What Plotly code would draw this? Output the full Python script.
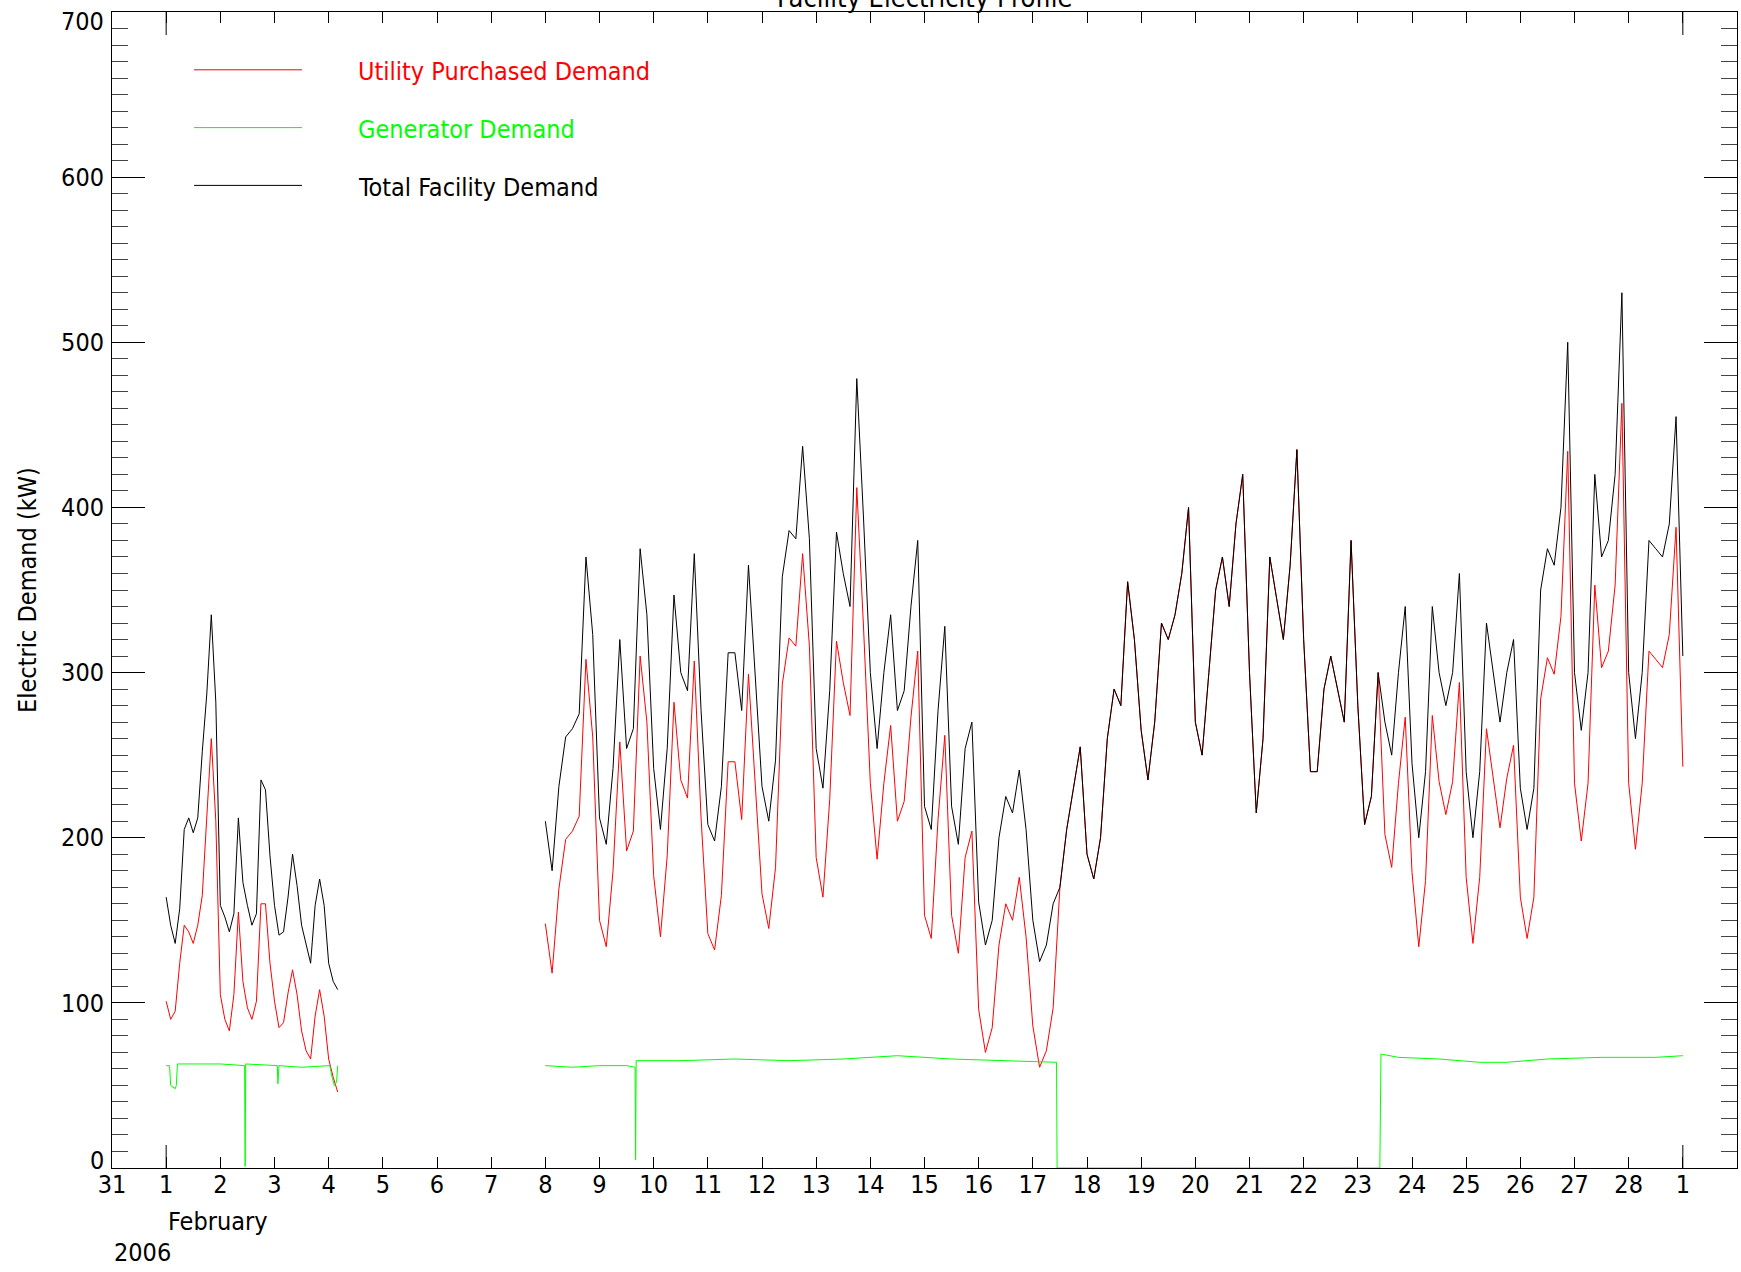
import pandas as pd
import plotly.graph_objects as go

# ---------------- data ----------------
# Segment 1: Feb 1 00:00 .. Feb 4 04:00, 2-hour samples
seg1_start = "2006-02-01 00:00"
seg1_step = "2h"
seg1_total = [164, 147, 136, 157, 205, 212, 203, 212, 252, 287, 335, 282,
              159, 152, 143, 154, 212, 173, 159, 147, 154, 235, 229, 189,
              159, 141, 143, 164, 190, 171, 147, 136, 124, 159, 175, 159,
              124, 113, 108]
seg1_utility = [101, 90, 95, 124, 147, 143, 136, 147, 165, 210, 260, 210,
                105, 90, 83, 105, 155, 113, 97, 90, 101, 160, 160, 124,
                101, 85, 88, 106, 120, 105, 83, 71, 66, 92, 108, 92,
                66, 55, 46]

# Segment 2: Feb 8 00:00 .. Mar 1 00:00, 3-hour samples
seg2_start = "2006-02-08 00:00"
seg2_step = "3h"
seg2_total = [
    210, 180, 231, 261, 266, 275, 370, 323,   # Feb 8
    212, 196, 242, 320, 254, 266, 375, 335,   # Feb 9
    242, 205, 254, 347, 300, 289, 372, 277,   # Feb 10
    208, 198, 231, 312, 312, 277, 365, 300,   # Feb 11
    231, 210, 247, 358, 386, 381, 437, 381,   # Feb 12
    254, 230, 289, 385, 360, 340, 478, 393,   # Feb 13
    300, 254, 300, 335, 277, 289, 340, 380,   # Feb 14
    219, 205, 277, 328, 219, 196, 254, 270,   # Feb 15
    161, 135, 150, 200, 225, 215, 241, 205,   # Feb 16
    150, 125, 135, 160, 170, 205, 230, 255,   # Feb 17
    190, 175, 200, 260, 290, 280, 355, 320,   # Feb 18
    265, 235, 270, 330, 320, 335, 360, 400,   # Feb 19
    270, 250, 300, 350, 370, 340, 390, 420,   # Feb 20
    300, 215, 260, 370, 345, 320, 365, 435,   # Feb 21
    320, 240, 240, 290, 310, 290, 270, 380,   # Feb 22
    280, 208, 225, 300, 270, 250, 300, 340,   # Feb 23
    245, 200, 240, 340, 300, 280, 300, 360,   # Feb 24
    240, 200, 240, 330, 300, 270, 300, 320,   # Feb 25
    230, 205, 230, 350, 375, 365, 400, 500,   # Feb 26
    300, 265, 300, 420, 370, 380, 420, 530,   # Feb 27
    300, 260, 300, 380, 375, 370, 390, 455,   # Feb 28
    310,                                      # Mar 1
]
seg2_utility = [
    148, 118, 169, 199, 204, 213, 308, 261,
    150, 134, 180, 258, 192, 204, 310, 270,
    177, 140, 189, 282, 235, 224, 307, 212,
    142, 132, 165, 246, 246, 211, 299, 234,
    166, 145, 182, 293, 321, 316, 372, 316,
    188, 164, 223, 319, 294, 274, 412, 327,
    233, 187, 233, 268, 210, 222, 273, 313,
    153, 139, 211, 262, 153, 130, 188, 204,
    96, 70, 85, 135, 160, 150, 176, 140,
    86, 61, 71, 97, 170, 205, 230, 255,
    190, 175, 200, 260, 290, 280, 355, 320,
    265, 235, 270, 330, 320, 335, 360, 400,
    270, 250, 300, 350, 370, 340, 390, 420,
    300, 215, 260, 370, 345, 320, 365, 435,
    320, 240, 240, 290, 310, 290, 270, 380,
    280, 208, 225, 300, 202, 182, 233, 273,
    179, 134, 174, 274, 234, 214, 234, 294,
    176, 136, 176, 266, 236, 206, 236, 256,
    164, 139, 164, 284, 309, 299, 334, 434,
    233, 198, 233, 353, 303, 313, 353, 463,
    233, 193, 233, 313, 308, 303, 323, 388,
    243,
]

# Generator demand, breakpoints
gen1_times = ["2006-02-01 00:00", "2006-02-01 01:30", "2006-02-01 02:00",
              "2006-02-01 04:00", "2006-02-01 04:30", "2006-02-01 05:00",
              "2006-02-01 12:00", "2006-02-02 00:00", "2006-02-02 10:45",
              "2006-02-02 11:00", "2006-02-02 11:15", "2006-02-03 01:15",
              "2006-02-03 01:30", "2006-02-03 02:00", "2006-02-03 12:00",
              "2006-02-04 00:30", "2006-02-04 01:30", "2006-02-04 02:30",
              "2006-02-04 03:30", "2006-02-04 04:00"]
gen1_values = [62, 62, 50, 48, 50, 63, 63, 63, 62, 1, 63, 62, 51, 62, 61,
               62, 55, 50, 52, 62]
gen2_times = ["2006-02-08 00:00", "2006-02-08 12:00", "2006-02-09 00:00",
              "2006-02-09 12:00", "2006-02-09 15:45", "2006-02-09 16:00",
              "2006-02-09 16:15", "2006-02-10 12:00", "2006-02-11 12:00",
              "2006-02-12 12:00", "2006-02-13 12:00", "2006-02-14 12:00",
              "2006-02-15 12:00", "2006-02-16 12:00", "2006-02-17 10:30",
              "2006-02-17 10:45", "2006-02-23 09:45", "2006-02-23 10:15",
              "2006-02-23 18:00", "2006-02-24 12:00", "2006-02-25 06:00",
              "2006-02-25 18:00", "2006-02-26 12:00", "2006-02-27 12:00",
              "2006-02-28 12:00", "2006-03-01 00:00"]
gen2_values = [62, 61, 62, 62, 61, 5, 65, 65, 66, 65, 66, 68, 66, 65, 64,
               0, 0, 69, 67, 66, 64, 64, 66, 67, 67, 68]

day_ticks = pd.date_range("2006-01-31", "2006-03-01", freq="D")
day_labels = ["31"] + [str(i) for i in range(1, 29)] + ["1"]
month_ticks = ["2006-02-01", "2006-03-01"]
y_ticks = list(range(0, 701, 100))
y_labels = [str(v) for v in y_ticks]

series_names = ["Utility Purchased Demand", "Generator Demand", "Total Facility Demand"]
series_colors = ["#ff0000", "#00ff00", "#000000"]

FONT = "DejaVu Sans Condensed, Liberation Sans Narrow, Arial Narrow, sans-serif"
FS = 25

# ---------------- build ----------------
t1 = list(pd.date_range(seg1_start, periods=len(seg1_total), freq=seg1_step))
t2 = list(pd.date_range(seg2_start, periods=len(seg2_total), freq=seg2_step))

x_main = t1 + [None] + t2
util_y = seg1_utility + [None] + seg2_utility
total_y = seg1_total + [None] + seg2_total
gen_x = list(pd.to_datetime(gen1_times)) + [None] + list(pd.to_datetime(gen2_times))
gen_y = gen1_values + [None] + gen2_values

fig = go.Figure()
fig.add_trace(go.Scatter(x=x_main, y=util_y, mode="lines", name=series_names[0],
                         line=dict(color=series_colors[0], width=1), connectgaps=False))
fig.add_trace(go.Scatter(x=gen_x, y=gen_y, mode="lines", name=series_names[1],
                         line=dict(color=series_colors[1], width=1), connectgaps=False))
fig.add_trace(go.Scatter(x=x_main, y=total_y, mode="lines", name=series_names[2],
                         line=dict(color=series_colors[2], width=1), connectgaps=False))

W, H = 1741, 1272
ML, MR, MT, MB = 112, 4, 12, 104

fig.update_layout(
    width=W, height=H,
    margin=dict(l=ML, r=MR, t=MT, b=MB, pad=0),
    paper_bgcolor="white", plot_bgcolor="white",
    showlegend=False,
    font=dict(family=FONT, size=FS, color="black"),
    xaxis=dict(
        type="date", range=["2006-01-31", "2006-03-02"],
        tickmode="array", tickvals=day_ticks, ticktext=day_labels,
        ticks="inside", ticklen=11, tickwidth=1, tickcolor="black",
        showline=True, linecolor="black", linewidth=1, mirror="ticks",
        showgrid=False, zeroline=False,
        tickfont=dict(family=FONT, size=FS, color="black"),
        ticklabelstandoff=-6,
    ),
    yaxis=dict(
        range=[0, 700],
        tickmode="array", tickvals=y_ticks,
        ticktext=[""] + y_labels[1:-1] + [""],
        ticks="inside", ticklen=33, tickwidth=1, tickcolor="black",
        minor=dict(tickmode="linear", tick0=0, dtick=10, ticks="inside",
                   ticklen=16, tickwidth=1, tickcolor="#444444", showgrid=False),
        showline=True, linecolor="black", linewidth=1, mirror="ticks",
        showgrid=False, zeroline=False,
        tickfont=dict(family=FONT, size=FS, color="black"),
        ticklabelstandoff=2,
    ),
)

# longer ticks at month boundaries (bottom and top)
for m in month_ticks:
    fig.add_shape(type="line", xref="x", x0=m, x1=m, yref="paper",
                  ysizemode="pixel", yanchor=0, y0=0, y1=23,
                  line=dict(color="black", width=1))
    fig.add_shape(type="line", xref="x", x0=m, x1=m, yref="paper",
                  ysizemode="pixel", yanchor=1, y0=0, y1=-23,
                  line=dict(color="black", width=1))

# end labels of y axis, nudged inward
fig.add_annotation(text=y_labels[0], xref="paper", x=0, xanchor="right", xshift=-6,
                   yref="y", y=y_ticks[0], yanchor="middle", yshift=8,
                   showarrow=False, font=dict(family=FONT, size=FS, color="black"))
fig.add_annotation(text=y_labels[-1], xref="paper", x=0, xanchor="right", xshift=-6,
                   yref="y", y=y_ticks[-1], yanchor="middle", yshift=-9,
                   showarrow=False, font=dict(family=FONT, size=FS, color="black"))

# month / year labels under the day ticks
fig.add_annotation(text="February", xref="x", x=month_ticks[0], xanchor="left",
                   yref="paper", y=0, yanchor="middle", yshift=-53,
                   showarrow=False, font=dict(family=FONT, size=FS, color="black"))
fig.add_annotation(text="2006", xref="x", x=str(day_ticks[0].date()), xanchor="left",
                   yref="paper", y=0, yanchor="middle", yshift=-84,
                   showarrow=False, font=dict(family=FONT, size=FS, color="black"))

# title (mostly above the page top, as in the reference)
fig.add_annotation(text="Facility Electricity Profile", xref="paper", x=0.5, xanchor="center",
                   yref="paper", y=1, yanchor="bottom", yshift=-3,
                   showarrow=False, font=dict(family=FONT, size=27, color="black"))

# y axis title
fig.add_annotation(text="Electric Demand (kW)", textangle=-90, xref="paper", x=-0.0523,
                   xanchor="center", yref="paper", y=0.5, yanchor="middle",
                   showarrow=False, font=dict(family=FONT, size=FS, color="black"))

# manual legend
leg_y = [0.95, 0.90, 0.85]
for name, col, yy in zip(series_names, series_colors, leg_y):
    fig.add_shape(type="line", xref="paper", yref="paper", x0=0.0505, x1=0.1169,
                  y0=yy, y1=yy, line=dict(color=col, width=1))
    fig.add_annotation(text=name, xref="paper", x=0.150, xanchor="left",
                       yref="paper", y=yy, yanchor="middle", yshift=-2,
                       showarrow=False, font=dict(family=FONT, size=FS, color=col))

fig.write_html("out.html",
               config={"displayModeBar": False, "staticPlot": True},
               post_script="document.body.style.margin='0px';document.body.style.overflow='hidden';")
